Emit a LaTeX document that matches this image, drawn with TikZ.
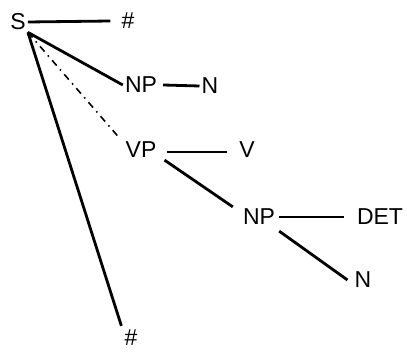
\documentclass[tikz,border=0pt]{standalone}
\usepackage{fontspec}
\setmainfont{Liberation Sans}
\begin{document}
\begin{tikzpicture}[x=1pt, y=-1pt,
    every node/.style={font=\fontsize{23}{24}\selectfont, inner sep=2pt},
    branch/.style={line width=2.8pt},
    gap/.style={line width=1.6pt, dash pattern=on 7pt off 5pt on 1.5pt off 5pt}]
    \useasboundingbox (0,0) rectangle (407,352);

    \node (S) at (18,22) {S};
    \node (hashTop) at (128,21) {\#};
    \node (NPa) at (141,85) {NP};
    \node (Na) at (210,86) {N};
    \node (VP) at (141,150) {VP};
    \node (V) at (247,150) {V};
    \node (NPb) at (259,217) {NP};
    \node (DET) at (380,217) {DET};
    \node (Nb) at (363,280) {N};
    \node (hashBot) at (131,338) {\#};

    \draw [branch] (S.east) -- ([xshift=-9pt]hashTop.west);
    \draw [branch] (S.south east) -- (NPa.west);
    \draw [gap] (S.south east) -- ([xshift=-5pt,yshift=3pt]VP.north west);
    \draw [branch] (S.south east) -- ([xshift=-1pt,yshift=2pt]hashBot.north west);

    \draw [branch] ([xshift=4pt]NPa.east) -- (Na.west);
    \draw [branch] ([xshift=8pt,yshift=-2pt]VP.east) -- ([xshift=-10pt,yshift=-2pt]V.west);
    \draw [branch] ([xshift=6pt]VP.south east) -- ([xshift=-8pt]NPb.north west);
    \draw [branch] ([xshift=2pt]NPb.east) -- ([xshift=-11pt]DET.west);
    \draw [branch] ([xshift=2pt,yshift=-4pt]NPb.south east) -- ([xshift=-5pt]Nb.west);
\end{tikzpicture}
\end{document}
